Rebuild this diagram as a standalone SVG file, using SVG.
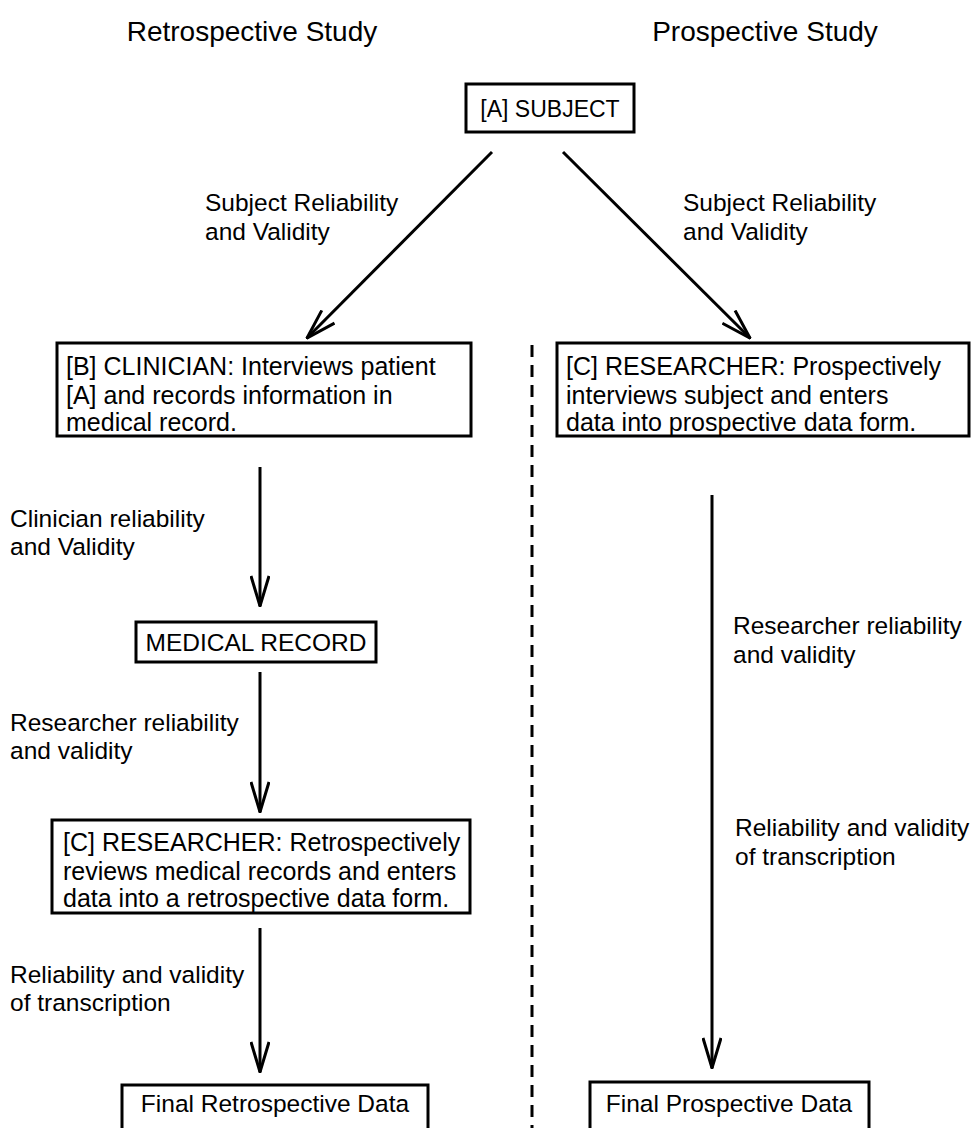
<svg xmlns="http://www.w3.org/2000/svg" width="971" height="1128" viewBox="0 0 971 1128">
<style>
.t{font-family:"Liberation Sans",Arial,sans-serif;fill:#000}
.title{font-size:28px;text-anchor:middle}
.box{fill:#fff;stroke:#000;stroke-width:3}
.bt{font-size:25px}
.lb{font-size:24.5px}
.c{text-anchor:middle}
.conn{stroke:#000;stroke-width:3;fill:none}
</style>
<defs>
<marker id="ah" viewBox="0 0 32 20" markerWidth="32" markerHeight="20" refX="31" refY="10" orient="auto" markerUnits="userSpaceOnUse">
<path d="M1,1 L31,10 L1,19" fill="none" stroke="#000" stroke-width="3" stroke-linejoin="miter"/>
</marker>
</defs>
<rect width="971" height="1128" fill="#fff"/>
<text class="t title" x="252" y="41">Retrospective Study</text>
<text class="t title" x="765" y="41">Prospective Study</text>

<g id="connectors">
<line class="conn" x1="532" y1="345" x2="532" y2="1128" stroke-dasharray="12,8"/>
<line class="conn" x1="492" y1="152" x2="307" y2="338" marker-end="url(#ah)"/>
<line class="conn" x1="563" y1="152" x2="750" y2="338" marker-end="url(#ah)"/>
<line class="conn" x1="260" y1="467" x2="260" y2="606" marker-end="url(#ah)"/>
<line class="conn" x1="260" y1="672" x2="260" y2="812" marker-end="url(#ah)"/>
<line class="conn" x1="260" y1="928" x2="260" y2="1072" marker-end="url(#ah)"/>
<line class="conn" x1="712" y1="495" x2="712" y2="1068" marker-end="url(#ah)"/>
<text class="t lb" x="205" y="211">Subject Reliability</text>
<text class="t lb" x="205" y="240">and Validity</text>
<text class="t lb" x="683" y="211">Subject Reliability</text>
<text class="t lb" x="683" y="240">and Validity</text>
<text class="t lb" x="10" y="527">Clinician reliability</text>
<text class="t lb" x="10" y="555">and Validity</text>
<text class="t lb" x="10" y="731">Researcher reliability</text>
<text class="t lb" x="10" y="759">and validity</text>
<text class="t lb" x="10" y="983">Reliability and validity</text>
<text class="t lb" x="10" y="1011">of transcription</text>
<text class="t lb" x="733" y="634">Researcher reliability</text>
<text class="t lb" x="733" y="663">and validity</text>
<text class="t lb" x="735" y="836">Reliability and validity</text>
<text class="t lb" x="735" y="865">of transcription</text>
</g>

<g id="subject">
<rect class="box" x="466" y="84" width="168" height="48"/>
<text class="t c" style="font-size:23px" x="550" y="117">[A] SUBJECT</text>
</g>
<g id="clinician">
<rect class="box" x="57" y="343" width="414" height="93"/>
<text class="t bt" x="66" y="375">[B] CLINICIAN: Interviews patient</text>
<text class="t bt" x="66" y="404">[A] and records information in</text>
<text class="t bt" x="66" y="431">medical record.</text>
</g>
<g id="researcher-pro">
<rect class="box" x="557" y="343" width="412" height="93"/>
<text class="t bt" x="566" y="375">[C] RESEARCHER: Prospectively</text>
<text class="t bt" x="566" y="404">interviews subject and enters</text>
<text class="t bt" x="566" y="431">data into prospective data form.</text>
</g>
<g id="medical-record">
<rect class="box" x="136" y="622" width="240" height="40"/>
<text class="t lb c" x="256" y="651">MEDICAL RECORD</text>
</g>
<g id="researcher-retro">
<rect class="box" x="52" y="820" width="418" height="93"/>
<text class="t bt" x="63" y="851">[C] RESEARCHER: Retrospectively</text>
<text class="t bt" x="63" y="880">reviews medical records and enters</text>
<text class="t bt" x="63" y="907">data into a retrospective data form.</text>
</g>
<g id="final-retro">
<rect class="box" x="122" y="1085" width="306" height="60"/>
<text class="t lb c" x="275" y="1112">Final Retrospective Data</text>
</g>
<g id="final-pro">
<rect class="box" x="590" y="1082" width="279" height="60"/>
<text class="t lb c" x="729" y="1112">Final Prospective Data</text>
</g>
</svg>
